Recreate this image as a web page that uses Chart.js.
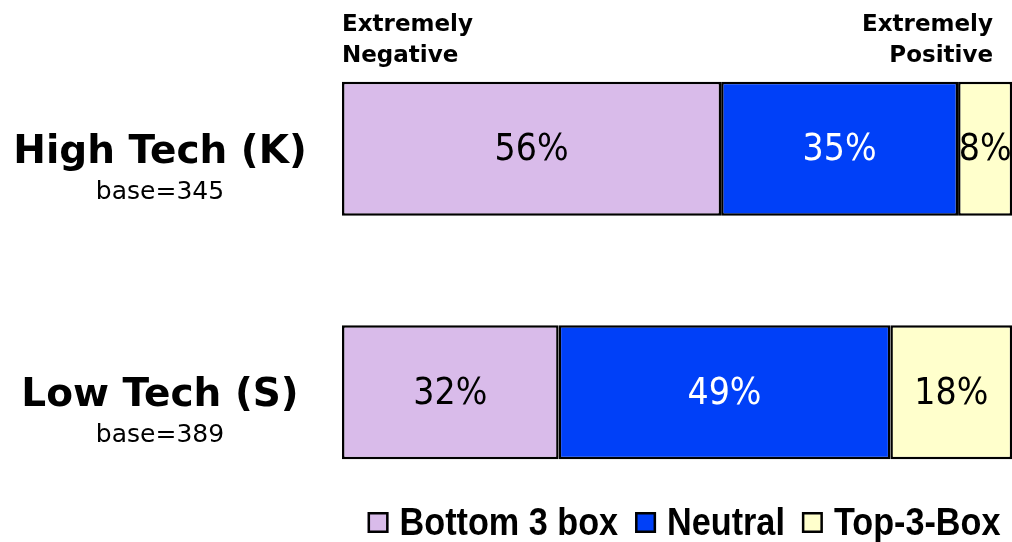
<!DOCTYPE html>
<html><head><meta charset="utf-8">
<script src="https://cdn.jsdelivr.net/npm/chart.js@4/dist/chart.umd.min.js"></script>
<style>html,body{margin:0;padding:0;background:#fff;overflow:hidden;width:1012px;height:542px}#wrap{position:relative;width:1019px;height:542px}</style>
</head><body><div id="wrap"><canvas id="c" width="1019" height="542"></canvas></div>
<script>
// ---- data ----
const categories = ["High Tech (K)", "Low Tech (S)"];
const baseSizes = [345, 389];
const seriesNames = ["Bottom 3 box", "Neutral", "Top-3-Box"];
const bottom3 = [56, 32];
const neutral = [35, 49];
const top3 = [8, 18];
const endLabelLeft = ["Extremely", "Negative"];
const endLabelRight = ["Extremely", "Positive"];

// ---- styles ----
const fills = ["#D9BBEA", "#0040F8", "#FFFFCC"];
const valueColors = ["#000000", "#FFFFFF", "#000000"];
const seriesValues = [bottom3, neutral, top3];

const textPlugin = {
  id: 'texts',
  afterDraw(chart) {
    const ctx = chart.ctx;
    const yS = chart.scales.y;
    ctx.save();
    // value labels
    ctx.font = '37px "DejaVu Sans Condensed", "DejaVu Sans", sans-serif';
    ctx.textAlign = 'center';
    ctx.textBaseline = 'middle';
    chart.data.datasets.forEach((ds, i) => {
      const meta = chart.getDatasetMeta(i);
      meta.data.forEach((el, j) => {
        ctx.fillStyle = valueColors[i];
        ctx.fillText(ds.data[j] + '%', (el.x + el.base) / 2, el.y + 2);
      });
    });
    // category labels
    ctx.textBaseline = 'alphabetic';
    ctx.fillStyle = '#000';
    categories.forEach((c, j) => {
      const y = yS.getPixelForValue(j);
      ctx.font = 'bold 39px "DejaVu Sans", sans-serif';
      ctx.fillText(c, 160, y + 14);
      ctx.font = '25px "DejaVu Sans", sans-serif';
      ctx.fillText('base=' + baseSizes[j], 160, y + 50);
    });
    // end labels
    ctx.font = 'bold 23px "DejaVu Sans", sans-serif';
    ctx.textAlign = 'left';
    endLabelLeft.forEach((t, k) => ctx.fillText(t, 342, 31 + k * 31));
    ctx.textAlign = 'right';
    endLabelRight.forEach((t, k) => ctx.fillText(t, 993, 31 + k * 31));
    // legend
    ctx.font = 'bold 38px "Liberation Sans", Arial, sans-serif';
    ctx.textAlign = 'left';
    const sx = 0.9;
    const box = 21, gapBT = 11, gapItem = 17;
    const widths = seriesNames.map(n => ctx.measureText(n).width * sx);
    const total = widths.reduce((a, w) => a + box + gapBT + w, 0) + gapItem * (seriesNames.length - 1);
    let x = 684 - total / 2;
    seriesNames.forEach((n, i) => {
      ctx.fillStyle = fills[i];
      ctx.fillRect(x, 512, box, box);
      ctx.lineWidth = 2.5;
      ctx.strokeStyle = '#000';
      ctx.strokeRect(x + 1.25, 513.25, box - 2.5, box - 2.5);
      ctx.fillStyle = '#000';
      ctx.save();
      ctx.translate(x + box + gapBT, 535);
      ctx.scale(sx, 1);
      ctx.fillText(n, 0, 0);
      ctx.restore();
      x += box + gapBT + widths[i] + gapItem;
    });
    ctx.restore();
  }
};

new Chart(document.getElementById('c'), {
  type: 'bar',
  data: {
    labels: categories,
    datasets: seriesNames.map((n, i) => ({
      label: n,
      data: seriesValues[i],
      backgroundColor: fills[i],
      borderColor: '#000000',
      borderWidth: 2.5,
      borderSkipped: false,
      barPercentage: 1,
      categoryPercentage: 0.55
    }))
  },
  options: {
    indexAxis: 'y',
    responsive: false,
    animation: false,
    devicePixelRatio: 1,
    layout: { padding: { left: 342, right: 0, top: 27, bottom: 28 } },
    scales: {
      x: { stacked: true, min: 0, max: 100, display: false },
      y: { stacked: true, display: false }
    },
    plugins: { legend: { display: false }, tooltip: { enabled: false } }
  },
  plugins: [textPlugin]
});
</script></body></html>
